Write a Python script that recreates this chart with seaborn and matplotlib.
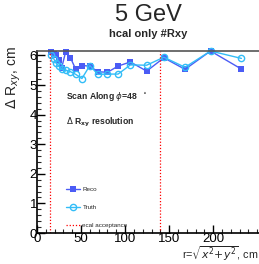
import seaborn as sns
import matplotlib.pyplot as plt
import pandas as pd

# scan positions r (cm) and resolution values (cm)
r_pos = [16, 19, 21.5, 24.5, 28, 32.5, 38, 44, 51, 60, 69, 80, 92, 106, 124.5, 144, 168, 197, 232]
reco = [6.12, 6.05, 6.0, 5.86, 5.58, 6.12, 5.92, 5.53, 5.66, 5.64, 5.45, 5.43, 5.64, 5.78, 5.47, 5.92, 5.53, 6.15, 5.54]
truth = [6.03, 5.89, 5.75, 5.64, 5.53, 5.5, 5.45, 5.36, 5.22, 5.66, 5.36, 5.37, 5.37, 5.68, 5.67, 5.94, 5.6, 6.15, 5.9]
ecal_lines = [15, 140]

df = pd.DataFrame({'r': r_pos, 'Reco': reco, 'Truth': truth})

sns.set_style("ticks")
plt.rcParams['font.family'] = ['Liberation Sans', 'DejaVu Sans']

fig = plt.figure(figsize=(2.59, 2.64), dpi=100)
ax = fig.add_axes([37 / 259, 31 / 264, 222 / 259, 182 / 264])

reco_col = '#4b5cf5'
truth_col = '#33bdf7'

sns.lineplot(data=df, x='r', y='Reco', ax=ax, color=reco_col, marker='s',
             markersize=4, markeredgewidth=0, linewidth=1, label='Reco', clip_on=False)
sns.lineplot(data=df, x='r', y='Truth', ax=ax, color=truth_col, marker='o',
             markersize=4.5, markerfacecolor='none', markeredgecolor=truth_col,
             markeredgewidth=1, linewidth=1, label='Truth', clip_on=False)
for i, xv in enumerate(ecal_lines):
    ax.axvline(xv, color='red', linestyle=(0, (1, 1.5)), linewidth=0.9,
               label='ecal acceptance' if i == 0 else None)

ax.set_xlim(0, 252)
ax.set_ylim(0, 6.15)
ax.set_xticks([0, 50, 100, 150, 200])
ax.set_yticks([0, 1, 2, 3, 4, 5, 6])
ax.set_xticks(range(0, 251, 10), minor=True)
ax.set_yticks([v / 5 for v in range(0, 31)], minor=True)
ax.tick_params(axis='both', which='major', direction='in', length=6, width=1,
               labelsize=9.5, pad=0, colors='black')
ax.tick_params(axis='both', which='minor', direction='in', length=3, width=0.8)
ax.set_xlabel('')
ax.set_ylabel('')
for side in ['left', 'bottom']:
    ax.spines[side].set_linewidth(1.2)
    ax.spines[side].set_color('black')
ax.spines['top'].set_color('#555555')
ax.spines['top'].set_linewidth(1.2)
ax.spines['right'].set_visible(False)

fig.text(148 / 259, 1 - 15 / 264, '5 GeV', ha='center', va='center', fontsize=17)
fig.text(148 / 259, 1 - 34 / 264, 'hcal only #Rxy', ha='center', va='center',
         fontsize=8, fontweight='bold')
fig.text(14 / 259, 1 - 78 / 264, r'$\Delta$ R$_{xy}$, cm', ha='center', va='center',
         rotation=90, fontsize=10)
fig.text(258 / 259, 1 / 264, r'r=$\sqrt{x^2\!+\!y^2}$, cm', ha='right',
         va='bottom', fontsize=7.8)

ax.text(29 / 222, (233 - 97) / 182, r'Scan Along $\phi$=48  $^\circ$',
        transform=ax.transAxes, fontsize=6.2, fontweight='bold', va='center')
ax.text(29 / 222, (233 - 122) / 182, r'$\Delta$ R$_{\mathbf{xy}}$ resolution',
        transform=ax.transAxes, fontsize=6.2, fontweight='bold', va='center')

ax.legend(loc='lower left', bbox_to_anchor=(0.12, 0.015), frameon=False, fontsize=4.5,
          labelspacing=2.0, handlelength=2.2, handletextpad=0.4, borderaxespad=0)

fig.savefig('out.png', dpi=100)
